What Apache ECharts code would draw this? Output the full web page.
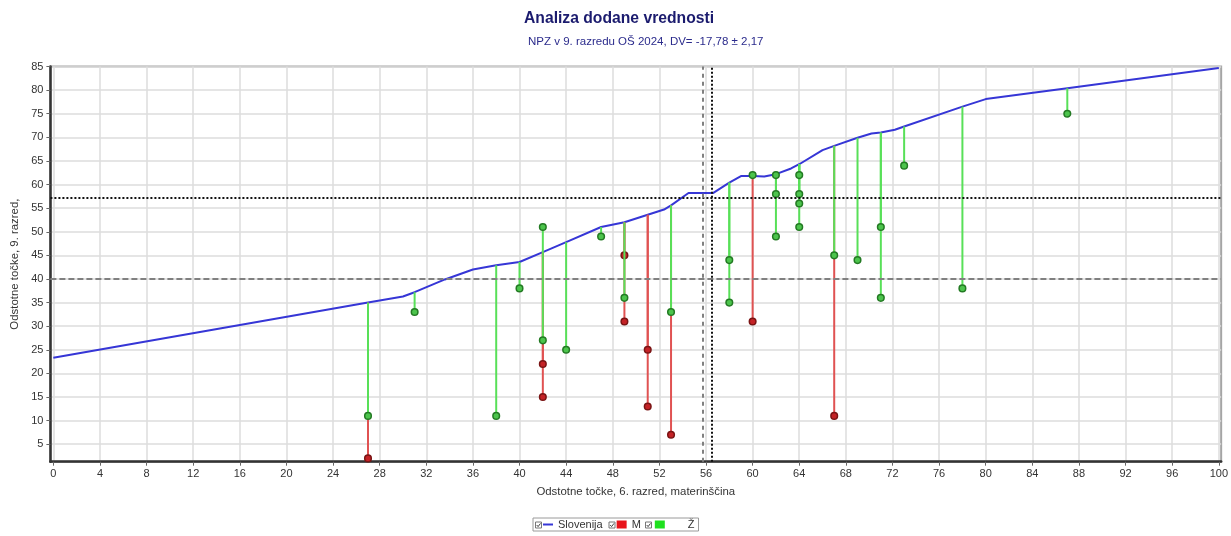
<!DOCTYPE html>
<html>
<head>
<meta charset="utf-8">
<script src="https://cdn.jsdelivr.net/npm/echarts@6/dist/echarts.min.js"></script>
<style>
  html, body { margin: 0; padding: 0; background: #ffffff; }
  #chart { width: 1231px; height: 536px; }
</style>
</head>
<body>
<div id="chart"></div>
<script>
// National reference curve: expected 9th-grade score for each 6th-grade score
const slovenijaX = [0, 27, 30, 31, 33.6, 36, 38, 40, 42, 44, 47, 49, 51, 52.4, 53, 54.5, 56.6, 58, 59, 60,
                    61, 62, 63.3, 64, 66, 67, 69, 70.2, 71, 72.2, 73, 78, 80, 87, 100];
const slovenijaY = [23.3, 35.0, 36.3, 37.2, 39.9, 42.0, 42.9, 43.6, 45.7, 47.8, 51.0, 52.0, 53.6, 54.7, 55.6, 58.2, 58.2, 60.4, 61.8, 61.8,
                    61.7, 62.2, 63.4, 64.3, 67.3, 68.2, 69.9, 70.8, 71.0, 71.6, 72.3, 76.5, 78.1, 80.4, 84.7];

// Boys (M): 6th-grade score, 9th-grade score
const mX = [27, 42, 42, 49, 49, 51, 51, 53, 60, 67];
const mY = [2, 22, 15, 45, 31, 25, 13, 7, 31, 11];

// Girls (Ž): 6th-grade score, 9th-grade score
const zX = [27, 31, 38, 40, 42, 42, 44, 47, 49, 53, 58, 58, 60, 62, 62, 62, 64, 64, 64, 64, 67, 69, 71, 71, 73, 78, 87];
const zY = [11, 33, 11, 38, 51, 27, 25, 49, 36, 33, 44, 35, 62, 62, 58, 49, 62, 58, 56, 51, 45, 44, 51, 36, 64, 38, 75];

// Reference lines: dashed = national averages, dotted = school averages
const refY = [40, 57.15];
const refX = [55.7, 56.5];

// Tick positions
const xTicks = [0, 4, 8, 12, 16, 20, 24, 28, 32, 36, 40, 44, 48, 52, 56, 60, 64, 68, 72, 76, 80, 84, 88, 92, 96, 100];
const yTicks = [5, 10, 15, 20, 25, 30, 35, 40, 45, 50, 55, 60, 65, 70, 75, 80, 85];

const FONT = 'Liberation Sans, Arial, sans-serif';

const slovenija = slovenijaX.map((x, i) => [x, slovenijaY[i]]);
const expected = x => slovenijaY[slovenijaX.indexOf(x)];
const stems = (xs, ys) => xs.map((x, i) => [x, expected(x), ys[i]]);

function stemRenderer(stemColor, fill, stroke) {
  return function (params, api) {
    const top = api.coord([api.value(0), api.value(1)]);
    const pt = api.coord([api.value(0), api.value(2)]);
    return {
      type: 'group',
      children: [
        { type: 'line', z2: 0,
          shape: { x1: top[0], y1: top[1], x2: pt[0], y2: pt[1] },
          style: { stroke: stemColor, lineWidth: 2 } },
        { type: 'circle', z2: 10,
          shape: { cx: pt[0], cy: pt[1], r: 3.3 },
          style: { fill: fill, stroke: stroke, lineWidth: 1.5 } }
      ]
    };
  };
}

function checkbox(x, y) {
  return {
    type: 'group', x: x, y: y, silent: true,
    children: [
      { type: 'rect', shape: { x: 0, y: 0, width: 6, height: 6 }, style: { fill: '#fff', stroke: '#777', lineWidth: 1 } },
      { type: 'polyline', shape: { points: [[1.2, 3], [2.6, 4.6], [5, 1.4]] }, style: { stroke: '#444', lineWidth: 1, fill: null } }
    ]
  };
}

const chart = echarts.init(document.getElementById('chart'), null, { renderer: 'canvas' });

chart.setOption({
  animation: false,
  backgroundColor: '#ffffff',
  textStyle: { fontFamily: FONT },
  title: [
    { text: 'Analiza dodane vrednosti', left: 524, top: 11, padding: 0,
      textStyle: { fontFamily: FONT, fontSize: 15.7, fontWeight: 'bold', color: '#1b1b6e' } },
    { text: 'NPZ v 9. razredu OŠ 2024, DV= -17,78 ± 2,17', left: 528, top: 36, padding: 0,
      textStyle: { fontFamily: FONT, fontSize: 11.5, fontWeight: 'normal', color: '#2b2b8c' } }
  ],
  grid: {
    left: 50.4, right: 9, top: 66.5, bottom: 74.3,
    show: true, borderColor: '#a5a5a5', borderWidth: 2, backgroundColor: '#ffffff'
  },
  legend: {
    data: [
      { name: 'Slovenija', itemStyle: { opacity: 0 } },
      { name: 'M', icon: 'rect' },
      { name: 'Ž', icon: 'rect', textStyle: { padding: [0, 6, 0, 18] } }
    ],
    left: 533, top: 518,
    itemWidth: 10, itemHeight: 8, itemGap: 14,
    padding: [1, 4, 1, 9],
    borderColor: '#9a9a9a', borderWidth: 1,
    textStyle: { fontFamily: FONT, fontSize: 11, color: '#333' }
  },
  graphic: [checkbox(535.5, 522), checkbox(609, 522), checkbox(645.5, 522)],
  xAxis: {
    type: 'value', min: -0.25, max: 100.2,
    name: 'Odstotne točke, 6. razred, materinščina',
    nameLocation: 'middle', nameGap: 25,
    nameTextStyle: { fontFamily: FONT, fontSize: 11.4, color: '#333' },
    axisLine: { show: true, onZero: false, lineStyle: { color: '#333', width: 2.5 } },
    axisTick: { show: true, customValues: xTicks, length: 4, lineStyle: { color: '#666' } },
    axisLabel: { customValues: xTicks, margin: 7, fontFamily: FONT, fontSize: 11, color: '#333' },
    splitLine: { show: true, lineStyle: { color: '#dcdcdc', width: 1.5 } }
  },
  yAxis: {
    type: 'value', min: 1.3, max: 85,
    name: 'Odstotne točke, 9. razred,',
    nameLocation: 'middle', nameGap: 26, nameRotate: 90,
    nameTextStyle: { fontFamily: FONT, fontSize: 11.4, color: '#333' },
    axisLine: { show: true, onZero: false, lineStyle: { color: '#333', width: 2.5 } },
    axisTick: { show: true, customValues: yTicks, length: 4, lineStyle: { color: '#666' } },
    axisLabel: { customValues: yTicks, margin: 7, fontFamily: FONT, fontSize: 11, color: '#333' },
    splitLine: { show: true, lineStyle: { color: '#dcdcdc', width: 1.5 } }
  },
  series: [
    {
      name: 'reference', type: 'line', data: [], silent: true, z: 1,
      markLine: {
        silent: true, symbol: ['none', 'none'], label: { show: false }, animation: false,
        data: [
          { yAxis: refY[0], lineStyle: { color: '#808080', width: 2, type: [6, 3] } },
          { yAxis: refY[1], lineStyle: { color: '#111111', width: 2, type: [2, 2] } },
          { xAxis: refX[0], lineStyle: { color: '#808080', width: 2, type: [4, 4] } },
          { xAxis: refX[1], lineStyle: { color: '#111111', width: 2, type: [2, 2] } }
        ]
      }
    },
    {
      name: 'Slovenija', type: 'line', data: slovenija, z: 2,
      symbol: 'none', smooth: false,
      itemStyle: { color: '#3636d6' },
      lineStyle: { color: '#3636d6', width: 2 }
    },
    {
      name: 'M', type: 'custom', z: 3,
      data: stems(mX, mY),
      encode: { x: 0, y: [1, 2] },
      itemStyle: { color: '#e8141b' },
      renderItem: stemRenderer('#e05252', '#c42226', '#7a1414')
    },
    {
      name: 'Ž', type: 'custom', z: 4,
      data: stems(zX, zY),
      encode: { x: 0, y: [1, 2] },
      itemStyle: { color: '#1ee01e' },
      renderItem: stemRenderer('#58e058', '#4cc44c', '#237a23')
    }
  ]
});
</script>
</body>
</html>
